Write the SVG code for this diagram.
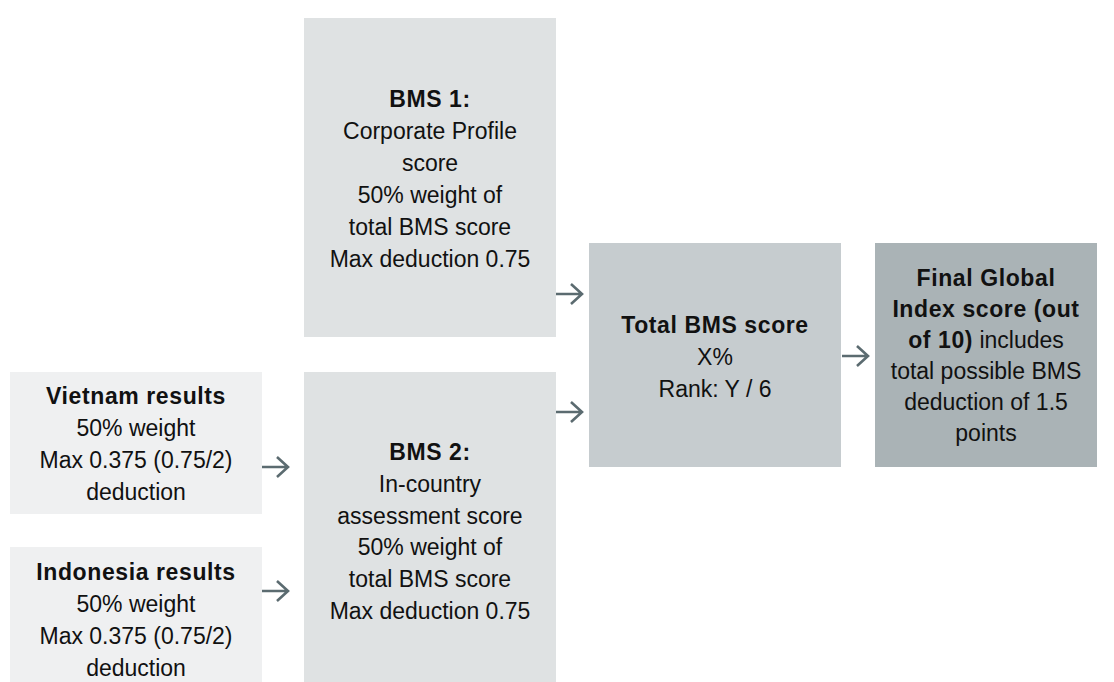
<svg xmlns="http://www.w3.org/2000/svg" width="1114" height="682" viewBox="0 0 1114 682">
  <style>
    text { font-family: "Liberation Sans", Arial, sans-serif; font-size: 23px; fill: #111; text-anchor: middle; }
    .b { font-weight: bold; letter-spacing: 0.6px; }
    .lite { fill: #eff0f1; }
    .mid { fill: #dfe2e3; }
    .total { fill: #c6cccf; }
    .final { fill: #aab3b6; }
    .arrow { fill: none; stroke: #5b6b70; stroke-width: 2.6; }
  </style>

  <g id="bms1">
    <rect class="mid" x="304" y="18" width="252" height="319"/>
    <text x="430" y="107" class="b">BMS 1:</text>
    <text x="430" y="139">Corporate Profile</text>
    <text x="430" y="171">score</text>
    <text x="430" y="203">50% weight of</text>
    <text x="430" y="235">total BMS score</text>
    <text x="430" y="267">Max deduction 0.75</text>
  </g>

  <g id="bms2">
    <rect class="mid" x="304" y="372" width="252" height="310"/>
    <text x="430" y="460" class="b">BMS 2:</text>
    <text x="430" y="492">In-country</text>
    <text x="430" y="524">assessment score</text>
    <text x="430" y="555">50% weight of</text>
    <text x="430" y="587">total BMS score</text>
    <text x="430" y="619">Max deduction 0.75</text>
  </g>

  <g id="vietnam">
    <rect class="lite" x="10" y="372" width="252" height="142"/>
    <text x="136" y="404" class="b">Vietnam results</text>
    <text x="136" y="436">50% weight</text>
    <text x="136" y="468">Max 0.375 (0.75/2)</text>
    <text x="136" y="500">deduction</text>
  </g>

  <g id="indonesia">
    <rect class="lite" x="10" y="547" width="252" height="135"/>
    <text x="136" y="580" class="b">Indonesia results</text>
    <text x="136" y="612">50% weight</text>
    <text x="136" y="644">Max 0.375 (0.75/2)</text>
    <text x="136" y="676">deduction</text>
  </g>

  <g id="total">
    <rect class="total" x="589" y="243" width="252" height="224"/>
    <text x="715" y="333" class="b">Total BMS score</text>
    <text x="715" y="365">X%</text>
    <text x="715" y="397">Rank: Y / 6</text>
  </g>

  <g id="final">
    <rect class="final" x="875" y="243" width="222" height="224"/>
    <text x="986" y="286" class="b">Final Global</text>
    <text x="986" y="317" class="b">Index score (out</text>
    <text x="986" y="348"><tspan class="b">of 10)</tspan> includes</text>
    <text x="986" y="379">total possible BMS</text>
    <text x="986" y="410">deduction of 1.5</text>
    <text x="986" y="441">points</text>
  </g>

  <g id="connectors">
    <path class="arrow" d="M556 294H582M571 284L582 294L571 304"/>
    <path class="arrow" d="M556 412H582M571 402L582 412L571 422"/>
    <path class="arrow" d="M262 467H288M277 457L288 467L277 477"/>
    <path class="arrow" d="M262 591H288M277 581L288 591L277 601"/>
    <path class="arrow" d="M842 356H868M857 346L868 356L857 366"/>
  </g>
</svg>
